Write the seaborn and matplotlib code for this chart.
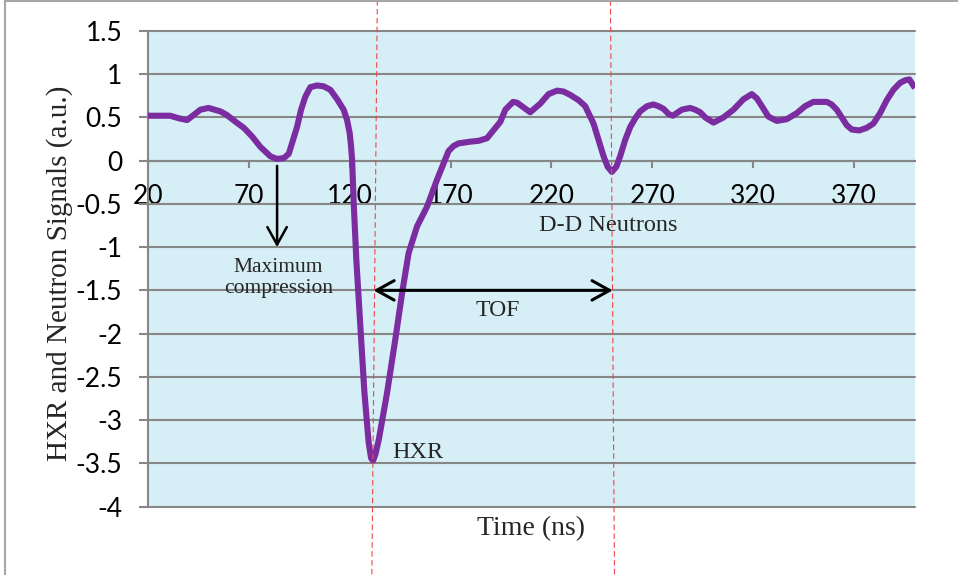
import numpy as np
import pandas as pd
import seaborn as sns
import matplotlib.pyplot as plt
from matplotlib.lines import Line2D

# signal
time_ns = [20, 31, 35.3, 39.4, 42.7, 46, 50, 55.9, 59, 63.4, 67.5, 71.6, 75.7, 80.7,
           84, 87.3, 89.8, 93.9, 95.9, 98, 100.5, 103.8, 107.1, 110.4, 113.8, 117,
           118.7, 120, 120.7, 121.2, 122, 123.3, 125.3, 127.3, 129.4, 130.6, 131.6,
           132.7, 134.4, 138.5, 142.6, 146, 149.2, 153.4, 158.4, 163.3, 169, 171.5,
           174, 179.8, 184, 188.1, 194.7, 197.2, 201, 203, 205.4, 209.5, 214.5,
           218.6, 222.8, 226, 229.4, 233.5, 236.8, 240.9, 243.4, 245.9, 247.9, 250,
           252.2, 254.1, 256.6, 259.1, 261.6, 264, 267.4, 270.6, 273.1, 275.6,
           278.1, 280.2, 284.7, 288.8, 291.3, 293.8, 296.3, 300.4, 305.3, 310.3,
           315.2, 319.4, 321.9, 324.4, 327.6, 331.8, 336.7, 341.7, 345.8, 349.9,
           356.6, 359, 361.5, 366.5, 369, 372.7, 376.4, 379.7, 383, 386.3, 389.6,
           392.9, 395.4, 397.5, 400.3]
signal = [0.52, 0.52, 0.49, 0.47, 0.53, 0.59, 0.61, 0.57, 0.53, 0.45, 0.38, 0.28, 0.16, 0.05,
          0.02, 0.03, 0.08, 0.39, 0.59, 0.74, 0.85, 0.87, 0.86, 0.82, 0.71, 0.59,
          0.47, 0.32, 0.16, 0.01, -0.49, -1.15, -1.92, -2.68, -3.26, -3.44, -3.47,
          -3.40, -3.23, -2.69, -2.07, -1.53, -1.07, -0.76, -0.53, -0.22, 0.11, 0.17,
          0.20, 0.22, 0.23, 0.26, 0.45, 0.59, 0.68, 0.67, 0.63, 0.56, 0.66,
          0.77, 0.81, 0.80, 0.76, 0.70, 0.63, 0.43, 0.24, 0.05, -0.07, -0.13,
          -0.07, 0.05, 0.24, 0.39, 0.49, 0.57, 0.63, 0.65, 0.63, 0.60,
          0.54, 0.52, 0.59, 0.61, 0.59, 0.56, 0.50, 0.44, 0.50, 0.59,
          0.71, 0.77, 0.72, 0.63, 0.51, 0.46, 0.48, 0.55, 0.63, 0.68,
          0.68, 0.65, 0.59, 0.41, 0.36, 0.35, 0.38, 0.43, 0.55, 0.70, 0.82,
          0.90, 0.93, 0.94, 0.84]

x_ticks = [20, 70, 120, 170, 220, 270, 320, 370]
y_ticks = [1.5, 1, 0.5, 0, -0.5, -1, -1.5, -2, -2.5, -3, -3.5, -4]
y_ticklabels = ['1.5', '1', '0.5', '0', '-0.5', '-1', '-1.5', '-2', '-2.5', '-3', '-3.5', '-4']

hxr_peak = (133.7, 131.0)       # dashed marker, top / bottom x
neutron_peak = (249.3, 251.3)

df = pd.DataFrame({'time': time_ns, 'signal': signal})

sns.set_style('white')
plt.rcParams['font.family'] = ['Lato', 'DejaVu Sans']

fig = plt.figure(figsize=(9.58, 5.75), dpi=100)
ax = fig.add_axes([0.1545, 0.1191, 0.8006, 0.827])
ax.set_facecolor('#d6eef5')

sns.lineplot(data=df, x='time', y='signal', color='#7a2ca0', linewidth=4.4,
             estimator=None, sort=False, ax=ax, zorder=3,
             solid_joinstyle='round', solid_capstyle='butt')

ax.set_xlim(20, 400.3)
ax.set_ylim(-4, 1.5)
ax.set_xticks(x_ticks)
ax.set_xticklabels([str(t) for t in x_ticks])
ax.set_yticks(y_ticks)
ax.set_yticklabels(y_ticklabels)

grid_c = '#878787'
ax.grid(axis='y', color=grid_c, linewidth=1.5)
ax.grid(axis='x', visible=False)
for gl in ax.get_ygridlines():
    gl.set_clip_on(False)
for s in ['top', 'right']:
    ax.spines[s].set_visible(False)
ax.spines['left'].set_color(grid_c)
ax.spines['left'].set_linewidth(1.5)
ax.spines['bottom'].set_position(('data', 0))
ax.spines['bottom'].set_color(grid_c)
ax.spines['bottom'].set_linewidth(1.5)

ax.tick_params(axis='y', direction='out', length=6.5, width=1.5, color=grid_c,
               pad=12, labelsize=19, labelcolor='black', left=True)
ax.tick_params(axis='x', direction='out', length=5, width=1.5, color=grid_c,
               pad=12, labelsize=19, labelcolor='black', bottom=True)

serif = ['Liberation Serif', 'DejaVu Serif']
ax.set_ylabel('HXR and Neutron Signals (a.u.)', fontsize=21, family=serif)
ax.yaxis.set_label_coords(-0.098, 0.49)
ax.set_xlabel('Time (ns)', fontsize=20, family=serif)
ax.xaxis.set_label_coords(0.5, -0.046)
ax.xaxis.label.set_va('center')

# dashed markers through the HXR and neutron peaks, running past the axes
for top_x, bot_x in [hxr_peak, neutron_peak]:
    ax.plot([top_x, bot_x], [1.858, -4.785], color='#f04848', linewidth=0.8,
            linestyle=(0, (5, 3)), clip_on=False, zorder=4)

head = '->, head_length=0.45, head_width=0.25'
ax.annotate('', xy=(84, -1.0), xytext=(84, -0.06),
            arrowprops=dict(arrowstyle=head, color='black', lw=1.8,
                            mutation_scale=28, shrinkA=0, shrinkB=0), zorder=5)
ax.annotate('', xy=(131.8, -1.5), xytext=(250.4, -1.5),
            arrowprops=dict(arrowstyle='<->, head_length=0.45, head_width=0.25',
                            color='black', lw=2.2,
                            mutation_scale=28, shrinkA=0, shrinkB=0), zorder=5)

ax.text(84.7, -1.12, 'Maximum\ncompression', ha='center', va='top', fontsize=15.5,
        family=serif, linespacing=1.18)
ax.text(193.3, -1.735, 'TOF', ha='center', va='center', fontsize=17, family=serif)
ax.text(154.0, -3.38, 'HXR', ha='center', va='center', fontsize=17.5, family=serif)
ax.text(248.2, -0.75, 'D-D Neutrons', ha='center', va='center', fontsize=17.5,
        family=serif)

# chart-area border (left and top edges visible in the crop)
fig.add_artist(Line2D([5 / 958, 5 / 958], [0, 1 - 1 / 575], color='#a6a6a6',
                      linewidth=1.5, transform=fig.transFigure))
fig.add_artist(Line2D([5 / 958, 1], [1 - 1 / 575, 1 - 1 / 575], color='#a6a6a6',
                      linewidth=1.5, transform=fig.transFigure))

fig.savefig('out.png', dpi=100)
